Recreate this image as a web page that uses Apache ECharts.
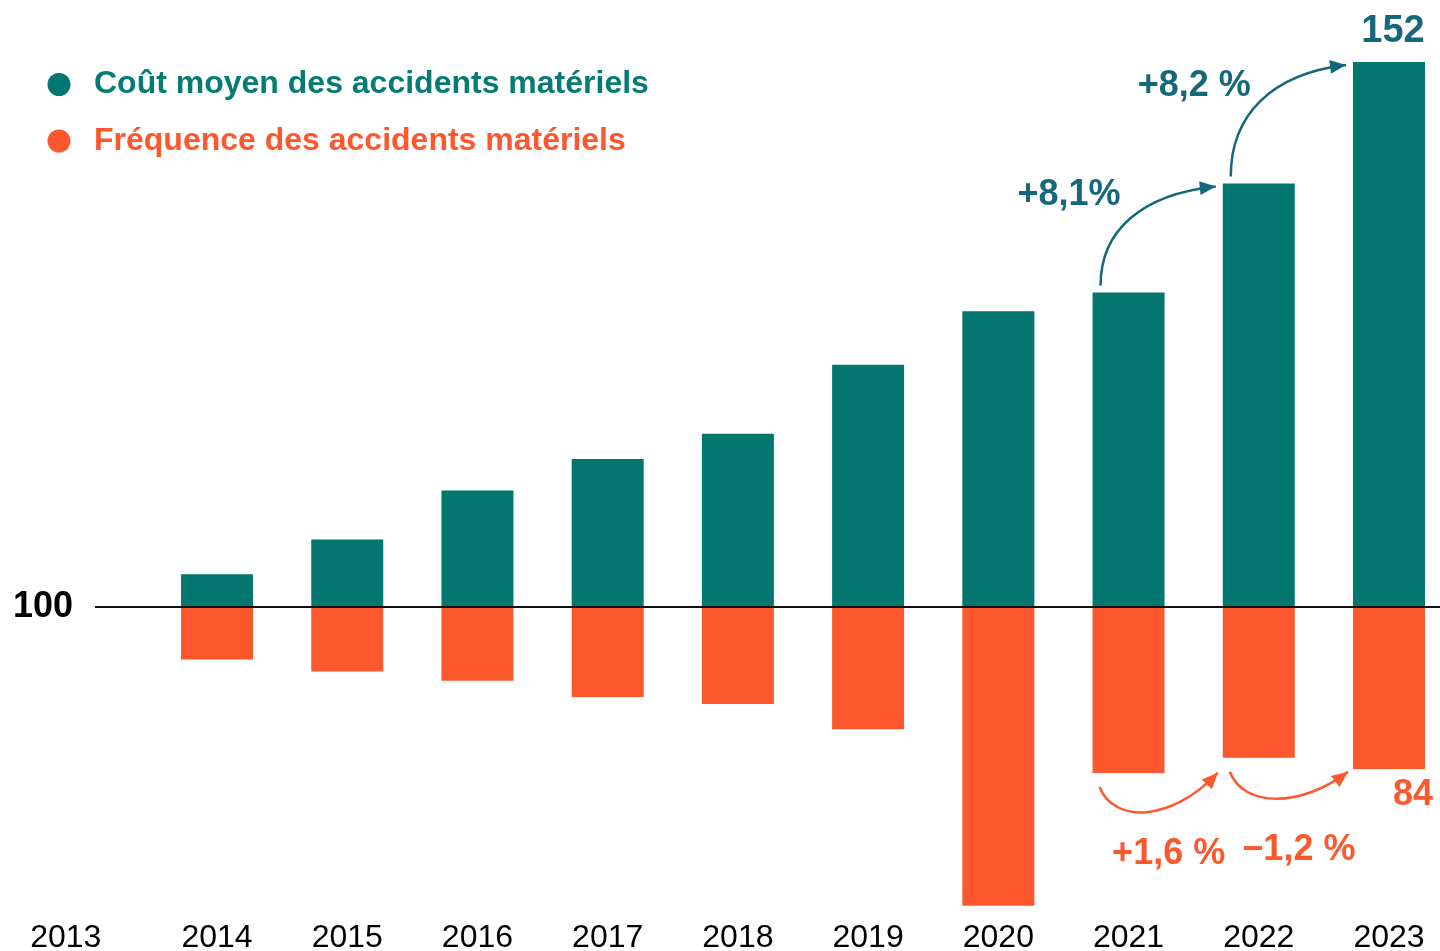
<!DOCTYPE html>
<html lang="fr">
<head>
    <meta charset="UTF-8">
    <title>Accidents matériels</title>
    <style>
        html, body {
            margin: 0;
            padding: 0;
            background: #fff;
        }
        #chart {
            width: 1440px;
            height: 951px;
        }
    </style>
</head>
<body>
<div id="chart"></div>
<script src="https://cdn.jsdelivr.net/npm/echarts@6/dist/echarts.min.js"></script>
<script>
    // indices base 100 en 2013
    const years = ['2013', '2014', '2015', '2016', '2017', '2018', '2019', '2020', '2021', '2022', '2023'];
    const costIndex = [null, 103.1, 106.4, 111.1, 114.1, 116.5, 123.1, 128.2, 130.0, 140.4, 152];
    const freqIndex = [null, 94.8, 93.6, 92.7, 91.1, 90.4, 87.9, 70.5, 83.6, 85.1, 84];
    const baseIndex = 100;
    // évolutions annotées : [de, à, texte]
    const costChanges = [['2021', '2022', '+8,1%'], ['2022', '2023', '+8,2 %']];
    const freqChanges = [['2021', '2022', '+1,6 %'], ['2022', '2023', '\u22121,2 %']];

    const costName = 'Coût moyen des accidents matériels';
    const freqName = 'Fréquence des accidents matériels';

    const green = '#03776f';
    const greenText = '#047c74';
    const greenNote = '#14687a';
    const orange = '#fd582d';
    const font = '"Liberation Sans", Arial, Helvetica, sans-serif';
    const barWidth = 72;

    // écart à la base 100 (les barres partent de la ligne 100)
    const dev = v => v == null ? '-' : +(v - baseIndex).toFixed(2);

    function arrowHead(ex, ey, fromX, fromY, color) {
        const a = Math.atan2(ey - fromY, ex - fromX);
        const len = 16, w = 7;
        const bx = ex - len * Math.cos(a), by = ey - len * Math.sin(a);
        return {
            type: 'polygon',
            shape: {
                points: [
                    [ex, ey],
                    [bx - w * Math.sin(a), by + w * Math.cos(a)],
                    [bx + w * Math.sin(a), by - w * Math.cos(a)]
                ]
            },
            style: {fill: color}
        };
    }

    function curve(sx, sy, c1, c2, ex, ey, color) {
        return {
            type: 'bezierCurve',
            shape: {x1: sx, y1: sy, cpx1: c1[0], cpy1: c1[1], cpx2: c2[0], cpy2: c2[1], x2: ex, y2: ey},
            style: {stroke: color, lineWidth: 2.5, fill: null}
        };
    }

    function noteText(text, x, y, align, color) {
        return {
            type: 'text',
            style: {
                text: text, x: x, y: y, fill: color,
                fontSize: 36, fontWeight: 'bold', fontFamily: font,
                align: align, verticalAlign: 'middle'
            }
        };
    }

    // flèches au-dessus des barres vertes
    function renderCostArrow(params, api) {
        const from = api.coord([api.value(0), api.value(1)]);
        const to = api.coord([api.value(2), api.value(3)]);
        const half = barWidth / 2;
        const sx = from[0] - half + 8, sy = from[1] - 7;
        const ex = to[0] - half - 7, ey = to[1] + 3;
        const dx = ex - sx, dy = sy - ey;
        const c1 = [sx, sy - 0.55 * dy];
        const c2 = [sx + 0.35 * dx, ey + 0.08 * dy];
        return {
            type: 'group',
            children: [
                curve(sx, sy, c1, c2, ex, ey, greenNote),
                arrowHead(ex, ey, c2[0], c2[1], greenNote),
                noteText(costChanges[params.dataIndex][2], sx + 20, sy - 90, 'right', greenNote)
            ]
        };
    }

    // flèches sous les barres orange
    function renderFreqArrow(params, api) {
        const from = api.coord([api.value(0), api.value(1)]);
        const to = api.coord([api.value(2), api.value(3)]);
        const half = barWidth / 2;
        const sx = from[0] - half + 7, sy = from[1] + 14;
        const ex = to[0] - half - 5, ey = Math.min(sy, to[1] + 15);
        const dx = ex - sx;
        const low = Math.max(sy, ey);
        const c1 = [sx + 0.12 * dx, sy + 36];
        const c2 = [sx + 0.6 * dx, low + 36];
        const textY = Math.max(from[1], to[1]) + 81;
        return {
            type: 'group',
            children: [
                curve(sx, sy, c1, c2, ex, ey, orange),
                arrowHead(ex, ey, c2[0], c2[1], orange),
                noteText(freqChanges[params.dataIndex][2], (sx + ex) / 2 + 10, textY, 'center', orange)
            ]
        };
    }

    const costArrowData = costChanges.map(c => {
        const i = years.indexOf(c[0]), j = years.indexOf(c[1]);
        return [i, dev(costIndex[i]), j, dev(costIndex[j])];
    });
    const freqArrowData = freqChanges.map(c => {
        const i = years.indexOf(c[0]), j = years.indexOf(c[1]);
        return [i, dev(freqIndex[i]), j, dev(freqIndex[j])];
    });

    const last = years.length - 1;

    let myChart = echarts.init(document.getElementById('chart'), null, {renderer: 'canvas'});
    let option = {
        animation: false,
        backgroundColor: '#fff',
        textStyle: {fontFamily: font},
        legend: {
            orient: 'vertical',
            left: 42.5,
            top: 63.5,
            itemWidth: 60,
            itemHeight: 23,
            itemGap: 24.5,
            icon: 'circle',
            selectedMode: false,
            textStyle: {fontSize: 32, fontWeight: 'bold', fontFamily: font},
            data: [
                {name: costName, textStyle: {color: greenText}},
                {name: freqName, textStyle: {color: orange}}
            ]
        },
        grid: {
            left: 21.7,
            right: -14.1,
            top: 9.6,
            bottom: 30.1,
            containLabel: false,
            outerBoundsMode: 'none'
        },
        xAxis: {
            type: 'category',
            data: years,
            axisLine: {show: false, onZero: false},
            axisTick: {show: false},
            splitLine: {show: false},
            axisLabel: {
                interval: 0,
                margin: 1,
                formatter: v => v === years[0] ? '{first|' + v + '}' : '{yr|' + v + '}',
                rich: {
                    yr: {fontSize: 32, color: '#000', fontFamily: font},
                    first: {fontSize: 32, color: '#000', fontFamily: font, padding: [0, 42, 0, 0]}
                }
            }
        },
        yAxis: [
            {
                type: 'value',
                min: -30,
                max: 57,
                show: false,
                splitLine: {show: false}
            },
            {
                type: 'value',
                min: -30.99,
                max: 58.89,
                show: false,
                splitLine: {show: false}
            }
        ],
        series: [
            {
                name: costName,
                type: 'bar',
                yAxisIndex: 0,
                barWidth: barWidth,
                barGap: '-100%',
                itemStyle: {color: green},
                data: costIndex.map(dev),
                label: {
                    show: true,
                    position: 'top',
                    distance: 11,
                    offset: [4, 0],
                    fontSize: 38,
                    fontWeight: 'bold',
                    fontFamily: font,
                    color: greenNote,
                    formatter: p => p.dataIndex === last ? String(costIndex[last]) : ''
                },
                markLine: {
                    silent: true,
                    symbol: 'none',
                    lineStyle: {color: '#111', width: 1.8, type: 'solid'},
                    label: {
                        show: true,
                        position: 'start',
                        distance: 22,
                        formatter: () => String(baseIndex),
                        fontSize: 36,
                        fontWeight: 'bold',
                        fontFamily: font,
                        color: '#000'
                    },
                    data: [[{yAxis: 0, x: 95}, {yAxis: 0, x: '100%'}]]
                }
            },
            {
                name: freqName,
                type: 'bar',
                yAxisIndex: 1,
                barWidth: barWidth,
                barGap: '-100%',
                itemStyle: {color: orange},
                data: freqIndex.map(dev),
                label: {
                    show: true,
                    position: 'bottom',
                    distance: 8,
                    offset: [24, 0],
                    fontSize: 36,
                    fontWeight: 'bold',
                    fontFamily: font,
                    color: orange,
                    formatter: p => p.dataIndex === last ? String(freqIndex[last]) : ''
                }
            },
            {
                type: 'custom',
                yAxisIndex: 0,
                silent: true,
                renderItem: renderCostArrow,
                encode: {x: [0, 2], y: [1, 3]},
                data: costArrowData,
                z: 5
            },
            {
                type: 'custom',
                yAxisIndex: 1,
                silent: true,
                renderItem: renderFreqArrow,
                encode: {x: [0, 2], y: [1, 3]},
                data: freqArrowData,
                z: 5
            }
        ]
    };
    myChart.setOption(option);
</script>
</body>
</html>
